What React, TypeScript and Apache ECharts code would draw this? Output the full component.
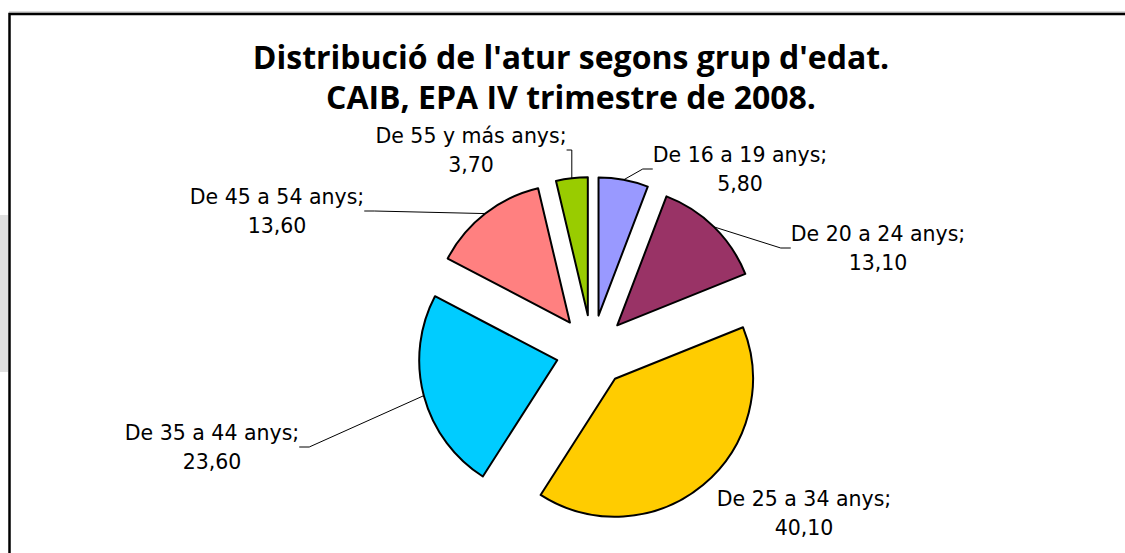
import React, { useEffect, useRef } from "react";
import * as echarts from "echarts";

const categories = [
  "De 16 a 19 anys",
  "De 20 a 24 anys",
  "De 25 a 34 anys",
  "De 35 a 44 anys",
  "De 45 a 54 anys",
  "De 55 y más anys",
];
const values = [5.8, 13.1, 40.1, 23.6, 13.6, 3.7];
const sliceColors = ["#9999FF", "#993366", "#FFCC00", "#00CCFF", "#FF8080", "#99CC00"];
const titleLines = [
  "Distribució de l'atur segons grup d'edat.",
  "CAIB, EPA IV trimestre de 2008.",
];

// label block centres (layout only)
const labelCenters: [number, number][] = [
  [740, 169],
  [878, 248],
  [804, 513],
  [212, 447],
  [277, 211],
  [471, 150],
];

const PIE_CX = 592;
const PIE_CY = 351;
const PIE_R = 138;
const EXPLODE = 36;

const fmt = (v: number) => v.toFixed(2).replace(".", ",");

export default function App() {
  const ref = useRef<HTMLDivElement>(null);
  useEffect(() => {
    const chart = echarts.init(ref.current!, undefined, { renderer: "svg" });
    const total = values.reduce((a, b) => a + b, 0);
    let cum = 0;
    const series = values.map((v, i) => {
      const mid = ((cum + v / 2) / total) * Math.PI * 2;
      cum += v;
      const cx = PIE_CX + EXPLODE * Math.sin(mid);
      const cy = PIE_CY - EXPLODE * Math.cos(mid);
      return {
        type: "pie",
        name: categories[i],
        center: [cx, cy],
        radius: PIE_R,
        startAngle: 90,
        clockwise: true,
        silent: true,
        avoidLabelOverlap: false,
        emphasis: { disabled: true },
        itemStyle: { borderColor: "#000", borderWidth: 2 },
        label: {
          show: true,
          position: "outside",
          formatter: (p: any) => `${p.name};\n${fmt(p.value)}`,
          fontFamily: "DejaVu Sans",
          fontSize: 20.5,
          lineHeight: 29,
          color: "#000",
          align: "center",
        },
        labelLine: { show: true, length: 10, length2: 10, lineStyle: { color: "#000", width: 1 } },
        labelLayout: (params: any) => {
          if (params.dataIndex !== i) return {};
          const c = labelCenters[i];
          return { x: c[0], y: c[1], align: "center", verticalAlign: "middle" };
        },
        data: categories.map((name, j) => {
          if (j !== i) {
            return {
              name,
              value: values[j],
              itemStyle: { color: "rgba(0,0,0,0)", borderWidth: 0 },
              label: { show: false },
              labelLine: { show: false },
            };
          }
          return {
            name,
            value: values[j],
            itemStyle: { color: sliceColors[j] },
            labelLine: j === 2 ? { show: false } : undefined,
          };
        }),
      };
    });
    chart.setOption({
      animation: false,
      backgroundColor: "#ffffff",
      graphic: [
        { type: "rect", shape: { x: 0, y: 215, width: 8, height: 157 }, style: { fill: "#e0e0e0" }, z: 0 },
        { type: "line", shape: { x1: 9, y1: 12, x2: 1130, y2: 12 }, style: { stroke: "#b0b0b0", lineWidth: 1 }, z: 0 },
        { type: "rect", shape: { x: 9.5, y: 14, width: 1130, height: 600 }, style: { fill: "none", stroke: "#000", lineWidth: 2.5 }, z: 1 },
        {
          type: "text", x: 571, y: 56, z: 5,
          style: { text: titleLines[0], align: "center", verticalAlign: "middle", fontFamily: "Open Sans", fontWeight: "bold", fontSize: 32, fill: "#000" },
        },
        {
          type: "text", x: 571, y: 96, z: 5,
          style: { text: titleLines[1], align: "center", verticalAlign: "middle", fontFamily: "Open Sans", fontWeight: "bold", fontSize: 32, fill: "#000" },
        },
      ],
      series,
    });
    return () => chart.dispose();
  }, []);
  return (
    <div
      ref={ref}
      style={{ position: "absolute", left: 0, top: 0, width: 1125, height: 553 }}
    />
  );
}
